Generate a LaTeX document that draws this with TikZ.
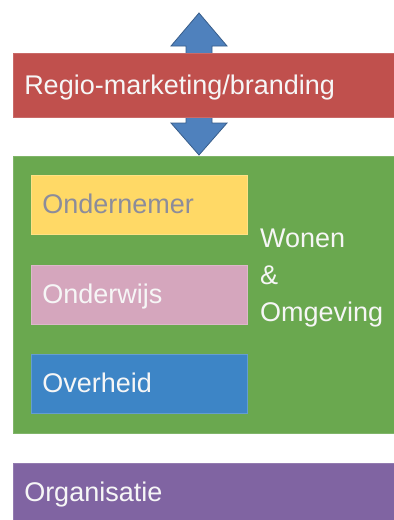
\documentclass[tikz,border=0pt]{standalone}
\usepackage{fontspec}
\setmainfont{Liberation Sans}
\usetikzlibrary{positioning}
\newcommand{\MIDX}{199}
\newcommand{\HEADW}{28}
\newcommand{\SHAFTW}{13}
\newcommand{\BARTW}{359pt}
\newcommand{\SUBTW}{194pt}
\newcommand{\LINEPT}{0.8pt}
\definecolor{myred}{RGB}{192,80,77}
\definecolor{mygreen}{RGB}{106,168,79}
\definecolor{myyellow}{RGB}{255,217,102}
\definecolor{mypink}{RGB}{213,166,189}
\definecolor{myblue}{RGB}{61,133,198}
\definecolor{mypurple}{RGB}{128,100,162}
\definecolor{arrowblue}{RGB}{79,129,189}
\definecolor{arrowline}{RGB}{56,93,138}
\definecolor{mygray}{RGB}{140,140,155}
\definecolor{mywhite}{RGB}{246,246,246}

\begin{document}
\begin{tikzpicture}[x=1pt,y=-1pt,
	bigtext/.style={font=\fontsize{27}{37}\selectfont},
	bar/.style={bigtext,anchor=north west,inner xsep=11pt,inner ysep=0pt,text width=\BARTW,align=left,text=mywhite,fill=#1,draw=#1!85!white,line width=0.5pt},
	subbox/.style={bigtext,anchor=north west,inner xsep=11pt,inner ysep=0pt,text width=\SUBTW,align=left,text depth=2pt,minimum height=59pt,fill=#1,draw=#1!80!white,line width=0.5pt}]

	\useasboundingbox (0,0) rectangle (394,520);

	%% double arrow behind the red bar
	\coordinate (ttip) at (\MIDX,13);
	\coordinate (tl) at ({\MIDX-\HEADW},46);
	\coordinate (tr) at ({\MIDX+\HEADW},46);
	\coordinate (btip) at (\MIDX,155);
	\coordinate (bl) at ({\MIDX-\HEADW},123);
	\coordinate (br) at ({\MIDX+\HEADW},123);
	\draw[fill=arrowblue,draw=arrowline,line width=\LINEPT,line join=miter] (ttip) -- (tr) -- ({\MIDX+\SHAFTW},46) -- ({\MIDX+\SHAFTW},123) -- (br) -- (btip) -- (bl) -- ({\MIDX-\SHAFTW},123) -- ({\MIDX-\SHAFTW},46) -- (tl) -- cycle;

	%% main bars
	\node[bar=myred,text depth=2pt,minimum height=64pt] (regio) at (13,53) {Regio-marketing/branding};
	\node[bar=mygreen,below=38pt of regio.south west,anchor=north west,minimum height=277pt] (wonen) {};
	\node[bar=mypurple,text depth=2pt,below=30pt of wonen.south west,anchor=north west,minimum height=58pt] (organisatie) {Organisatie};

	%% the three inner boxes
	\node[subbox=myyellow,text=mygray] (ondernemer) at (31,175) {Ondernemer};
	\node[subbox=mypink,text=mywhite,below=30pt of ondernemer.south west,anchor=north west] (onderwijs) {Onderwijs};
	\node[subbox=myblue,text=mywhite,below=30pt of onderwijs.south west,anchor=north west] (overheid) {Overheid};

	\node[bigtext,text=mywhite,align=left,anchor=west,inner sep=0pt] (omgeving) at (260,278) {Wonen\\\&\\Omgeving};

\end{tikzpicture}
\end{document}
